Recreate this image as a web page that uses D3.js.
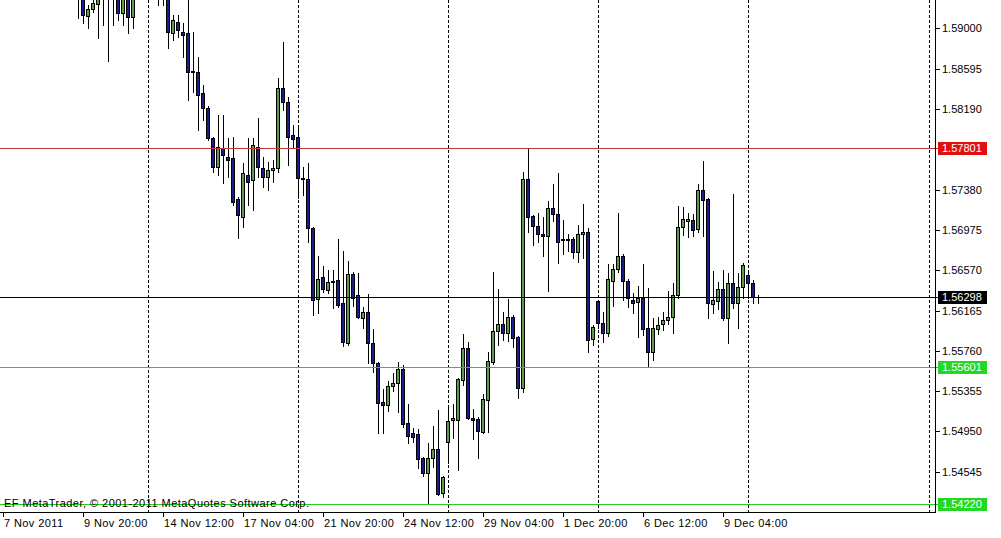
<!DOCTYPE html>
<html><head><meta charset="utf-8">
<script src="https://cdn.jsdelivr.net/npm/d3@7"></script>
<style>body{margin:0;background:#fff}svg{display:block}</style>
</head><body>
<svg id="chart" width="1001" height="538"></svg>
<script>
// H4 bars, bar index 0 = 7 Nov 2011 00:00; first drawn bar index:
const firstBar = 15;
const open = [
1.59535,1.59384,1.59123,1.59194,1.59244,1.59334,1.59485,1.59314,1.59384,1.59153,
1.59334,1.59113,1.59435,1.59585,1.59736,1.59585,1.59384,1.59314,1.59344,1.58953,
1.59063,1.58963,1.58953,1.58571,1.58561,1.58350,1.58199,1.57898,1.57606,1.57797,
1.57707,1.57697,1.57285,1.57104,1.57526,1.57476,1.57807,1.57596,1.57506,1.57576,
1.57596,1.58400,1.58259,1.57928,1.57908,1.57496,1.57486,1.56994,1.56281,1.56502,
1.56371,1.56461,1.56471,1.56240,1.55839,1.56532,1.56321,1.56090,1.56150,1.55839,
1.55638,1.55246,1.55216,1.55407,1.55437,1.55577,1.55035,1.54935,1.54924,1.54683,
1.54533,1.54683,1.54774,1.54332,1.54844,1.55065,1.55065,1.55467,1.55788,1.55085,
1.55075,1.54945,1.55266,1.55648,1.55959,1.56029,1.55939,1.56100,1.55899,1.55387,
1.57486,1.57114,1.57014,1.56933,1.56913,1.57195,1.57134,1.56873,1.56883,1.56883,
1.56753,1.56933,1.56954,1.55879,1.56260,1.56039,1.55939,1.56461,1.56582,1.56712,
1.56461,1.56270,1.56250,1.56291,1.55989,1.55748,1.55979,1.56029,1.56070,1.56100,
1.56321,1.57004,1.57064,1.57074,1.56984,1.57375,1.57285,1.56230,1.56260,1.56381,
1.56090,1.56441,1.56240,1.56401,1.56522,1.56441,1.56301];
const high = [
1.59585,1.59485,1.59234,1.59334,1.59405,1.59585,1.59535,1.59505,1.59435,1.59384,
1.59364,1.59435,1.59686,1.59786,1.59836,1.59636,1.59435,1.59405,1.59384,1.59133,
1.59133,1.59053,1.59304,1.58963,1.58711,1.58430,1.58219,1.57908,1.58129,1.58129,
1.57898,1.57908,1.57305,1.57647,1.57898,1.57898,1.58099,1.57707,1.57657,1.57677,
1.58500,1.58862,1.58310,1.58028,1.58008,1.57606,1.57647,1.57004,1.56712,1.56612,
1.56572,1.56572,1.56883,1.56763,1.56662,1.56552,1.56542,1.56200,1.56331,1.55979,
1.55648,1.55376,1.55457,1.55537,1.55648,1.55618,1.55226,1.54985,1.54975,1.54693,
1.54834,1.55005,1.55166,1.54503,1.55206,1.55226,1.55487,1.55929,1.55849,1.55176,
1.55095,1.55326,1.55748,1.56552,1.56381,1.56150,1.56281,1.56120,1.55909,1.57556,
1.57787,1.57124,1.57144,1.57104,1.57265,1.57436,1.57546,1.57074,1.56933,1.56903,
1.57024,1.57235,1.56994,1.56019,1.56270,1.56150,1.56632,1.56632,1.57144,1.56733,
1.56481,1.56341,1.56411,1.56632,1.56391,1.56090,1.56100,1.56150,1.56361,1.56441,
1.57215,1.57205,1.57144,1.57134,1.57436,1.57667,1.57295,1.56562,1.56451,1.56572,
1.56542,1.57335,1.56542,1.56642,1.56572,1.56471,1.56321];
const low = [
1.59103,1.59053,1.59003,1.59163,1.58902,1.59033,1.58671,1.59033,1.59083,1.59033,
1.58953,1.59003,1.59334,1.59535,1.59485,1.59334,1.59234,1.59234,1.58802,1.58882,
1.58912,1.58711,1.58279,1.58360,1.57978,1.58079,1.57878,1.57556,1.57526,1.57446,
1.57506,1.57225,1.56893,1.57004,1.57225,1.57175,1.57506,1.57406,1.57375,1.57456,
1.57556,1.58179,1.57627,1.57807,1.57295,1.57325,1.56853,1.56120,1.56140,1.56351,
1.56341,1.56190,1.56200,1.55808,1.55818,1.56210,1.56090,1.55989,1.55638,1.55547,
1.54935,1.54935,1.55156,1.55356,1.55145,1.54995,1.54834,1.54844,1.54583,1.54503,
1.54221,1.54593,1.54312,1.54292,1.54633,1.54884,1.54563,1.55417,1.55075,1.54874,
1.54683,1.54935,1.54945,1.55628,1.55818,1.55869,1.55859,1.55798,1.55286,1.55346,
1.56954,1.56823,1.56853,1.56712,1.56361,1.57064,1.56642,1.56733,1.56763,1.56692,
1.56652,1.56692,1.55748,1.55818,1.55989,1.55849,1.55909,1.56210,1.56552,1.56270,
1.56200,1.56140,1.55899,1.55919,1.55597,1.55668,1.55929,1.55969,1.56029,1.55939,
1.56291,1.56923,1.56903,1.56913,1.56954,1.56913,1.56090,1.56140,1.56180,1.56070,
1.55839,1.56190,1.55989,1.56291,1.56291,1.56240,1.56240];
const close = [
1.59334,1.59133,1.59194,1.59254,1.59364,1.59485,1.59314,1.59435,1.59153,1.59334,
1.59113,1.59384,1.59585,1.59736,1.59585,1.59384,1.59314,1.59344,1.58963,1.59083,
1.58983,1.58932,1.58561,1.58561,1.58330,1.58199,1.57898,1.57606,1.57807,1.57727,
1.57677,1.57255,1.57124,1.57546,1.57456,1.57827,1.57606,1.57506,1.57576,1.57596,
1.58400,1.58259,1.57908,1.57888,1.57496,1.57486,1.56994,1.56270,1.56481,1.56381,
1.56451,1.56451,1.56220,1.55849,1.56532,1.56291,1.56100,1.56150,1.55839,1.55638,
1.55236,1.55216,1.55407,1.55437,1.55577,1.55025,1.54904,1.54894,1.54673,1.54533,
1.54683,1.54774,1.54322,1.54493,1.55055,1.55085,1.55477,1.55788,1.55085,1.55065,
1.54955,1.55276,1.55658,1.55959,1.56029,1.55939,1.56100,1.55889,1.55387,1.57486,
1.57104,1.57014,1.56933,1.56913,1.57195,1.57134,1.56853,1.56883,1.56873,1.56753,
1.56933,1.56954,1.55869,1.55999,1.56039,1.55939,1.56481,1.56582,1.56712,1.56461,
1.56291,1.56240,1.56291,1.55979,1.55748,1.55989,1.56019,1.56070,1.56100,1.56321,
1.57004,1.57084,1.57084,1.56974,1.57375,1.57275,1.56240,1.56270,1.56381,1.56090,
1.56441,1.56240,1.56401,1.56622,1.56441,1.56301,1.56298];

const timeLabels = ["7 Nov 2011","9 Nov 20:00","14 Nov 12:00","17 Nov 04:00","21 Nov 20:00",
                    "24 Nov 12:00","29 Nov 04:00","1 Dec 20:00","6 Dec 12:00","9 Dec 04:00"];
const timeLabelBars = [0,16,32,48,64,80,96,112,128,144];
const separatorBars = [29,59,89,119,149,185.2];
const priceTicks = [1.59000,1.58595,1.58190,1.57380,1.56975,1.56570,1.56165,1.55760,1.55355,1.54950,1.54545];
const levelPrices = [1.57801,1.56298,1.55601,1.54220];
const levelLabels = ["1.57801","1.56298","1.55601","1.54220"];
const copyright = "EF MetaTrader, \u00A9 2001-2011 MetaQuotes Software Corp.";

// styles
const levelLineColors = ["#c03838","#000000","#22cc22","#22cc22"];
const levelBoxColors = ["#e01010","#000000","#22d822","#22d822"];
const bullFill = "#5a9c4c", bearFill = "#1c1c88";

const svg = d3.select("#chart");
const W = 935, H = 512;
const x = d3.scaleLinear().domain([0, 186.4]).range([3, W]);
const y = d3.scaleLinear().domain([1.54141, 1.59284]).range([H, 0]);
const font = "'Liberation Sans', Arial, sans-serif";

svg.append("defs").append("clipPath").attr("id","plot")
  .append("rect").attr("x",0).attr("y",0).attr("width",W).attr("height",H);

const plot = svg.append("g").attr("clip-path","url(#plot)");

// week separators
plot.selectAll("line.sep").data(separatorBars).enter().append("line")
  .attr("x1", d => Math.round(x(d)) + 0.5).attr("x2", d => Math.round(x(d)) + 0.5)
  .attr("y1", 0).attr("y2", H)
  .attr("stroke", "#000").attr("stroke-width", 1).attr("stroke-dasharray", "3,2");

// candles
const bars = open.map((o, k) => ({i: firstBar + k, o, h: high[k], l: low[k], c: close[k]}));
const g = plot.append("g");
g.selectAll("line.wick").data(bars).enter().append("line")
  .attr("x1", d => Math.round(x(d.i)) + 0.5).attr("x2", d => Math.round(x(d.i)) + 0.5)
  .attr("y1", d => Math.round(y(d.h))).attr("y2", d => Math.round(y(d.l)) + 1)
  .attr("stroke", "#000").attr("stroke-width", 1);
g.selectAll("rect.body").data(bars).enter().append("rect")
  .attr("x", d => Math.round(x(d.i)) - 1.5)
  .attr("width", 3)
  .attr("y", d => Math.round(y(Math.max(d.o, d.c))) + 0.5)
  .attr("height", d => Math.max(0, Math.round(y(Math.min(d.o, d.c))) - Math.round(y(Math.max(d.o, d.c)))))
  .attr("fill", d => d.c >= d.o ? bullFill : bearFill)
  .attr("stroke", "#000").attr("stroke-width", 1);

// horizontal level lines (extend to label box)
svg.selectAll("line.level").data(levelPrices).enter().append("line")
  .attr("x1", 0).attr("x2", 938)
  .attr("y1", d => Math.round(y(d)) + 0.5).attr("y2", d => Math.round(y(d)) + 0.5)
  .attr("stroke", (d, k) => levelLineColors[k]).attr("stroke-width", 1);

// copyright
svg.append("text").attr("x", 4).attr("y", 507)
  .attr("font-family", font).attr("font-size", 11).attr("fill", "#000")
  .attr("textLength", 305).attr("lengthAdjust", "spacing")
  .text(copyright);

// frame
svg.append("line").attr("x1", W + 0.5).attr("x2", W + 0.5).attr("y1", 0).attr("y2", H + 1)
  .attr("stroke", "#000");
svg.append("line").attr("x1", 0).attr("x2", W + 1).attr("y1", H + 0.5).attr("y2", H + 0.5)
  .attr("stroke", "#000");

// right price axis
const ra = svg.append("g");
ra.selectAll("line").data(priceTicks).enter().append("line")
  .attr("x1", W).attr("x2", W + 5)
  .attr("y1", d => Math.round(y(d)) + 0.5).attr("y2", d => Math.round(y(d)) + 0.5)
  .attr("stroke", "#000");
ra.selectAll("text").data(priceTicks).enter().append("text")
  .attr("x", W + 7).attr("y", d => y(d) + 4)
  .attr("font-family", font).attr("font-size", 11).attr("fill", "#000")
  .text(d => d.toFixed(5));

// level labels
const lv = svg.append("g");
lv.selectAll("rect").data(levelPrices).enter().append("rect")
  .attr("x", 938).attr("width", 49)
  .attr("y", d => Math.round(y(d)) - 6).attr("height", 13)
  .attr("fill", (d, k) => levelBoxColors[k]);
lv.selectAll("text").data(levelPrices).enter().append("text")
  .attr("x", W + 7).attr("y", d => y(d) + 4)
  .attr("font-family", font).attr("font-size", 11).attr("fill", "#fff")
  .text((d, k) => levelLabels[k]);

// bottom time axis
const ba = svg.append("g");
ba.selectAll("line").data(timeLabelBars).enter().append("line")
  .attr("x1", d => Math.round(x(d)) + 0.5).attr("x2", d => Math.round(x(d)) + 0.5)
  .attr("y1", H).attr("y2", H + 5).attr("stroke", "#000");
ba.selectAll("text").data(timeLabelBars).enter().append("text")
  .attr("x", d => x(d) + 1).attr("y", 527)
  .attr("font-family", font).attr("font-size", 11).attr("fill", "#000")
  .attr("letter-spacing", 0.4)
  .text((d, k) => timeLabels[k]);
</script>
</body></html>
